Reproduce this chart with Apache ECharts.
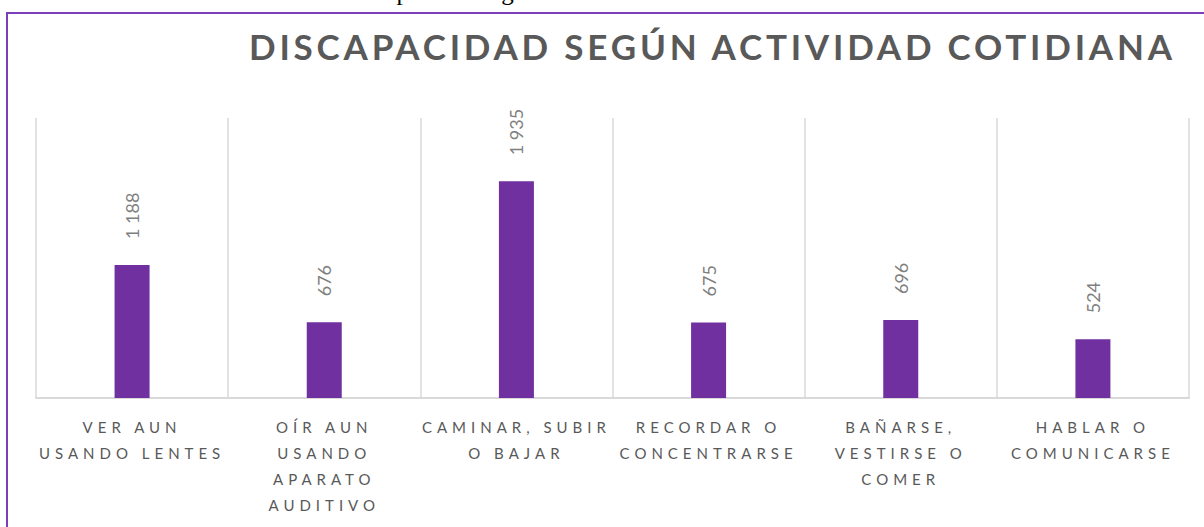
<!DOCTYPE html>
<html>
  <head>
    <meta charset="utf-8" />
    <title>Discapacidad según actividad cotidiana</title>
    <script src="https://cdn.jsdelivr.net/npm/echarts@6.0.0/dist/echarts.min.js"></script>
    <style>
      body {
        margin: 0;
        background: #fff;
      }
      #main {
        width: 1204px;
        height: 527px;
      }
      /* letter spacing for the spaced-out texts (svg renderer) */
      #main text[style*="Carlito"] { letter-spacing: 5px; }
      #main text[style*="Calibri"] { letter-spacing: 3.8px; }
    </style>
  </head>
<body>
  <div id="main"></div>

  <script type="text/javascript">
var chartTitle = 'DISCAPACIDAD SEGÚN ACTIVIDAD COTIDIANA';
var caption = 'Gráfico: Discapacidad según actividad cotidiana total';

var categories = [
  'VER AUN\nUSANDO LENTES',
  'OÍR AUN\nUSANDO\nAPARATO\nAUDITIVO',
  'CAMINAR, SUBIR\nO BAJAR',
  'RECORDAR O\nCONCENTRARSE',
  'BAÑARSE,\nVESTIRSE O\nCOMER',
  'HABLAR O\nCOMUNICARSE'
];
var values = [1188, 676, 1935, 675, 696, 524];
var yMax = 2500;

function fmt(v) {
  return String(v).replace(/\B(?=(\d{3})+(?!\d))/g, ' ');
}

var chart = echarts.init(document.getElementById('main'), null, { renderer: 'svg' });

var option = {
  animation: false,
  backgroundColor: '#fff',
  title: {
    text: chartTitle,
    left: 244,
    top: 23,
    textStyle: {
      fontFamily: 'Lato, Calibri',
      fontWeight: 'bold',
      fontSize: 35,
      color: '#595959'
    }
  },
  graphic: [
    {
      type: 'rect',
      z: -1,
      shape: { x: 7, y: 13, width: 1400, height: 700 },
      style: { fill: 'none', stroke: '#7b3fb9', lineWidth: 2 }
    },
    {
      type: 'text',
      left: 250,
      top: -21,
      z: -2,
      style: {
        text: caption,
        font: '25px "Liberation Serif"',
        fill: '#000'
      }
    }
  ],
  grid: {
    left: 36,
    right: 15,
    top: 118,
    bottom: 129
  },
  xAxis: {
    type: 'category',
    data: categories,
    axisTick: { show: false },
    axisLine: { lineStyle: { color: '#d9d9d9', width: 2 } },
    splitLine: { show: true, interval: 0, lineStyle: { color: '#d9d9d9', width: 1.5 } },
    axisLabel: {
      interval: 0,
      margin: 16,
      lineHeight: 26,
      fontFamily: 'Lato, Carlito',
      fontSize: 15,
      color: '#595959'
    }
  },
  yAxis: {
    type: 'value',
    min: 0,
    max: yMax,
    show: false,
    splitLine: { show: false }
  },
  series: [
    {
      type: 'bar',
      data: values,
      barWidth: 35,
      itemStyle: { color: '#7030a0' },
      label: {
        show: true,
        position: 'top',
        distance: 26,
        rotate: 90,
        align: 'left',
        verticalAlign: 'middle',
        fontFamily: 'Lato',
        fontSize: 18,
        color: '#7f7f7f',
        formatter: function (p) { return fmt(p.value); }
      }
    }
  ]
};

chart.setOption(option);
</script>
</body>
</html>
